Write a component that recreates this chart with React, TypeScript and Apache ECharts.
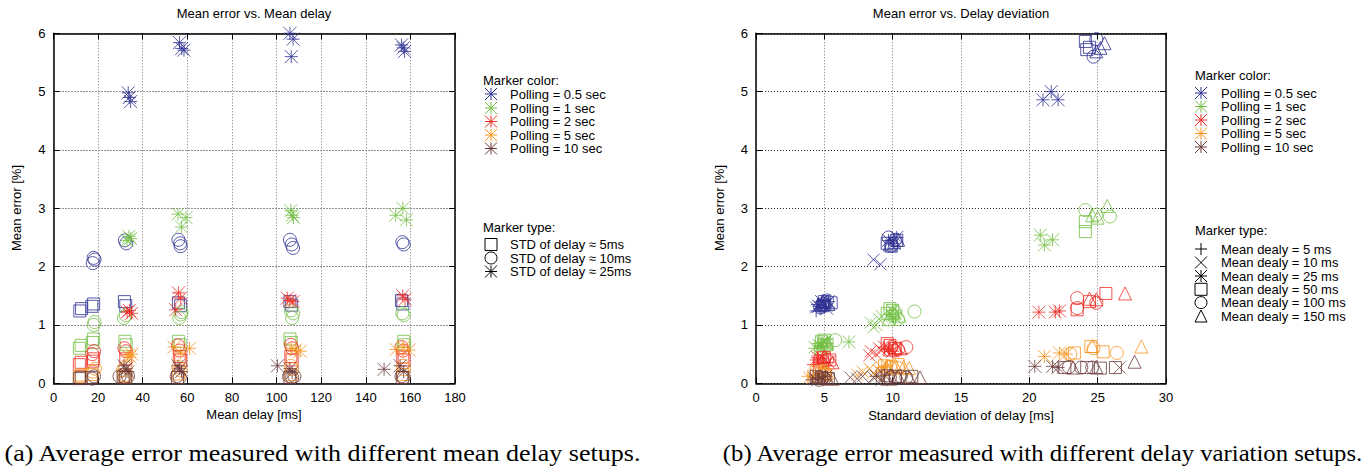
import React, { useEffect, useRef } from "react";
import * as echarts from "echarts";

// ---------- labels ----------
const TITLE_LEFT = "Mean error vs. Mean delay";
const TITLE_RIGHT = "Mean error vs. Delay deviation";
const XNAME_LEFT = "Mean delay [ms]";
const XNAME_RIGHT = "Standard deviation of delay [ms]";
const YNAME = "Mean error [%]";
const CAPTION_A = "(a) Average error measured with different mean delay setups.";
const CAPTION_B = "(b) Average error measured with different delay variation setups.";
const POLLING = ["Polling = 0.5 sec", "Polling = 1 sec", "Polling = 2 sec", "Polling = 5 sec", "Polling = 10 sec"];
const LEFT_TYPES = ["STD of delay \u2248 5ms", "STD of delay \u2248 10ms", "STD of delay \u2248 25ms"];
const RIGHT_TYPES = ["Mean dealy = 5 ms", "Mean dealy = 10 ms", "Mean dealy = 25 ms", "Mean dealy = 50 ms", "Mean dealy = 100 ms", "Mean dealy = 150 ms"];
const COLORS = ["#2e3192", "#72bf44", "#ed2a24", "#f7941d", "#6d3b3b"];

// ---------- left plot data: [measured mean delay, mean error] ----------
// blue (0.5 s)
const L_B_SQ = [[11.8,1.24],[12.6,1.28],[17.2,1.32],[18,1.36],[31.8,1.4],[32.4,1.33],[56,1.38],[57,1.33],[106,1.4],[106.8,1.34],[156,1.42],[156.6,1.36]];
const L_B_CI = [[17.6,2.06],[18.4,2.12],[18,2.15],[32,2.45],[32.6,2.4],[56,2.46],[56.8,2.4],[57,2.35],[106,2.46],[106.8,2.38],[107.4,2.32],[156.4,2.42],[157,2.38]];
const L_B_AS = [[33.5,4.98],[34,4.9],[34.6,4.83],[56.5,5.84],[57.5,5.74],[58.5,5.71],[106,6.0],[107.4,5.9],[106.6,5.6],[156,5.8],[156.8,5.75],[157.4,5.69]];
// green (1 s)
const L_G_SQ = [[11.6,0.6],[12.4,0.65],[17.4,0.7],[18,0.76],[32,0.72],[32.6,0.66],[56,0.72],[56.8,0.66],[106,0.76],[106.6,0.7],[157,0.72],[157.4,0.66]];
const L_G_CI = [[18,1.0],[18.4,1.05],[31.6,1.12],[32.4,1.17],[56.4,1.12],[57,1.18],[57.4,1.22],[106.4,1.25],[107.4,1.2],[107,1.12],[156.4,1.2],[157,1.17]];
const L_G_AS = [[33,2.45],[33.8,2.52],[34.6,2.48],[55.8,2.9],[57.4,2.68],[59.4,2.84],[106.4,2.96],[107,2.88],[107.6,2.84],[153.4,2.88],[156.6,3.0],[158.2,2.8]];
// red (2 s)
const L_R_SQ = [[11.6,0.32],[12.4,0.36],[17.6,0.38],[18,0.42],[32.4,0.42],[56.4,0.46],[57,0.4],[106.4,0.46],[107,0.4],[156.6,0.45],[157.2,0.4]];
const L_R_CI = [[17.4,0.5],[18.2,0.55],[31.8,0.6],[32.4,0.55],[55.8,0.65],[56.6,0.56],[106.4,0.66],[107,0.6],[156,0.62],[156.8,0.56]];
const L_R_AS = [[33,1.22],[34,1.25],[35,1.2],[54.8,1.26],[56,1.55],[57,1.46],[104.8,1.46],[106,1.42],[107.4,1.4],[156.6,1.5],[157.6,1.44]];
// orange (5 s)
const L_O_SQ = [[11.6,0.12],[12.4,0.14],[17,0.15],[31.6,0.14],[32.4,0.12],[56,0.16],[106.4,0.15],[156.6,0.15]];
const L_O_CI = [[17.6,0.2],[18.6,0.25],[31.2,0.22],[32.2,0.27],[56,0.28],[57,0.22],[106.4,0.3],[107,0.24],[156.6,0.3],[157.2,0.24]];
const L_O_AS = [[33.4,0.48],[35,0.5],[34.2,0.45],[54,0.62],[57,0.52],[61,0.6],[106.6,0.6],[108.6,0.57],[110.6,0.55],[153.6,0.58],[156.8,0.62],[159.4,0.57]];
// brown (10 s)
const L_N_SQ = [[11.6,0.08],[12.4,0.1],[17,0.1],[31.2,0.1],[32.4,0.1],[55.6,0.1],[106,0.1],[156.4,0.1]];
const L_N_CI = [[17.4,0.08],[18.2,0.12],[29.6,0.12],[31.8,0.1],[33.4,0.12],[55.2,0.12],[56.6,0.1],[105.6,0.12],[107,0.1],[108,0.12],[156,0.12],[157,0.1]];
const L_N_AS = [[31.6,0.3],[32.6,0.25],[33.4,0.2],[55.8,0.3],[56.6,0.25],[57.4,0.2],[100.4,0.3],[106,0.25],[107,0.18],[148.2,0.24],[155.4,0.3],[157,0.2]];

// ---------- right plot data: [measured std of delay, mean error] ----------
// blue
const R_B_PL = [[4.4,1.24],[4.7,1.28],[5.0,1.3],[4.5,1.35],[4.9,1.42]];
const R_B_CR = [[4.6,1.32],[5.0,1.36],[4.4,1.3],[5.2,1.28],[8.6,2.12],[9.1,2.04]];
const R_B_AS = [[4.8,1.4],[5.1,1.34],[4.6,1.32],[5.3,1.4],[9.7,2.45],[10.1,2.4],[10.3,2.5],[21.0,4.86],[21.6,5.0],[22.1,4.86]];
const R_B_SQ = [[5.5,1.38],[4.9,1.33],[5.0,1.4],[9.6,2.4],[10.3,2.45],[9.9,2.35],[24.1,5.86],[24.2,5.72],[24.4,5.76]];
const R_B_CI = [[4.9,1.36],[5.2,1.42],[4.7,1.3],[9.9,2.36],[10.2,2.46],[9.7,2.5],[24.7,6.02],[24.9,5.9],[24.7,5.6]];
const R_B_TR = [[5.1,1.4],[5.3,1.36],[4.8,1.35],[10.1,2.42],[10.4,2.46],[9.8,2.38],[25.5,5.83],[25.2,5.75],[24.9,5.69]];
// green
const R_G_PL = [[4.3,0.6],[4.6,0.64],[4.9,0.62],[4.5,0.68]];
const R_G_CR = [[4.6,0.66],[5.0,0.7],[4.3,0.62],[5.1,0.72],[8.4,1.04],[8.8,1.0],[9.0,1.1],[8.6,0.96],[9.2,1.15]];
const R_G_AS = [[4.9,0.7],[5.2,0.68],[4.7,0.64],[6.8,0.71],[9.8,1.18],[10.2,1.12],[10.0,1.25],[20.8,2.54],[21.1,2.37],[21.7,2.46]];
const R_G_SQ = [[4.8,0.72],[5.2,0.66],[5.0,0.74],[9.6,1.2],[10.0,1.25],[9.8,1.28],[24.1,2.6],[24.1,2.77]];
const R_G_CI = [[5.8,0.74],[5.1,0.64],[10.4,1.1],[11.6,1.23],[10.0,1.16],[10.2,1.22],[24.1,2.97],[25.9,2.86],[24.9,2.89]];
const R_G_TR = [[5.2,0.7],[4.8,0.6],[10.1,1.2],[10.5,1.16],[9.7,1.1],[25.7,3.04],[25.0,2.84],[24.6,2.88]];
// red
const R_R_PL = [[4.2,0.32],[4.6,0.36],[4.9,0.34],[4.4,0.4]];
const R_R_CR = [[4.5,0.38],[5.0,0.4],[4.8,0.45],[8.4,0.55],[8.8,0.5],[9.0,0.6],[8.3,0.48],[9.2,0.56]];
const R_R_AS = [[4.9,0.42],[5.3,0.36],[4.5,0.44],[9.7,0.6],[10.0,0.55],[9.4,0.62],[20.7,1.22],[21.9,1.22],[22.2,1.24]];
const R_R_SQ = [[5.0,0.44],[5.4,0.4],[4.7,0.38],[9.8,0.65],[10.2,0.6],[9.6,0.68],[23.5,1.26],[24.4,1.4],[25.6,1.54]];
const R_R_CI = [[5.2,0.4],[9.9,0.62],[11.0,0.62],[10.4,0.58],[10.1,0.56],[23.5,1.46],[24.9,1.38],[23.5,1.29]];
const R_R_TR = [[5.6,0.36],[5.0,0.46],[10.2,0.62],[10.6,0.6],[9.8,0.58],[24.4,1.45],[24.9,1.44],[27.0,1.54]];
// orange
const R_O_PL = [[3.8,0.12],[4.2,0.14],[4.6,0.1]];
const R_O_CR = [[3.9,0.1],[4.4,0.16],[7.8,0.2],[8.3,0.25],[8.6,0.18],[7.4,0.15],[9.0,0.22]];
const R_O_AS = [[4.6,0.18],[5.0,0.15],[4.2,0.1],[9.2,0.27],[9.6,0.3],[21.1,0.46],[22.2,0.52],[22.7,0.5]];
const R_O_SQ = [[4.8,0.16],[5.1,0.14],[4.4,0.2],[9.4,0.3],[9.9,0.28],[10.4,0.32],[23.3,0.52],[24.5,0.63],[25.4,0.54]];
const R_O_CI = [[5.0,0.2],[9.8,0.28],[10.4,0.26],[9.2,0.18],[24.7,0.6],[26.4,0.52],[23.0,0.5]];
const R_O_TR = [[5.2,0.18],[4.9,0.22],[10.2,0.3],[11.2,0.26],[10.8,0.28],[9.6,0.25],[24.6,0.64],[28.2,0.63]];
// brown
const R_N_PL = [[4.1,0.06],[4.5,0.08],[4.9,0.06]];
const R_N_CR = [[4.3,0.08],[4.8,0.1],[6.9,0.1],[7.8,0.12],[8.6,0.1],[7.4,0.08],[9.2,0.06],[26.6,0.27]];
const R_N_AS = [[4.6,0.1],[5.1,0.12],[8.8,0.12],[9.4,0.14],[20.4,0.29],[21.7,0.29],[22.1,0.27]];
const R_N_SQ = [[4.8,0.1],[5.3,0.08],[4.4,0.12],[9.6,0.13],[10.2,0.12],[11.4,0.12],[22.6,0.27],[24.2,0.27],[25.2,0.26],[26.3,0.27]];
const R_N_CI = [[5.0,0.08],[4.6,0.06],[9.8,0.1],[10.6,0.12],[11.0,0.1],[10.2,0.08],[22.9,0.28],[23.8,0.27],[24.6,0.27]];
const R_N_TR = [[5.6,0.08],[5.2,0.1],[10.4,0.12],[12.0,0.1],[11.2,0.1],[9.6,0.08],[23.2,0.27],[24.9,0.28],[27.7,0.37]];

const FONT = "'Liberation Sans', Arial, Helvetica, sans-serif";
const SERIF = "'Liberation Serif', 'Times New Roman', serif";

const SYM: Record<string, string> = {
  plus: "path://M0,5L10,5M5,0L5,10",
  cross: "path://M0,0L10,10M10,0L0,10",
  star: "path://M0,5L10,5M5,0L5,10M0,0L10,10M10,0L0,10",
  square: "path://M0,0L10,0L10,10L0,10Z",
  circle: "circle",
  triangle: "path://M5,0L10,10L0,10Z",
};
const SYM_SIZE: Record<string, number> = { plus: 13, cross: 12, star: 13, square: 12, circle: 13, triangle: 13 };

const LEFT_SETS = [
  [L_B_SQ, L_B_CI, L_B_AS],
  [L_G_SQ, L_G_CI, L_G_AS],
  [L_R_SQ, L_R_CI, L_R_AS],
  [L_O_SQ, L_O_CI, L_O_AS],
  [L_N_SQ, L_N_CI, L_N_AS],
];
const LEFT_SYMS = ["square", "circle", "star"];
const RIGHT_SETS = [
  [R_B_PL, R_B_CR, R_B_AS, R_B_SQ, R_B_CI, R_B_TR],
  [R_G_PL, R_G_CR, R_G_AS, R_G_SQ, R_G_CI, R_G_TR],
  [R_R_PL, R_R_CR, R_R_AS, R_R_SQ, R_R_CI, R_R_TR],
  [R_O_PL, R_O_CR, R_O_AS, R_O_SQ, R_O_CI, R_O_TR],
  [R_N_PL, R_N_CR, R_N_AS, R_N_SQ, R_N_CI, R_N_TR],
];
const RIGHT_SYMS = ["plus", "cross", "star", "square", "circle", "triangle"];

function marker(kind: string, cx: number, cy: number, s: number, color: string): any[] {
  const h = s / 2;
  const st = { stroke: color, lineWidth: 1, fill: "none" };
  const ln = (x1: number, y1: number, x2: number, y2: number) => ({ type: "line", shape: { x1, y1, x2, y2 }, style: st });
  switch (kind) {
    case "plus": return [ln(cx - h, cy, cx + h, cy), ln(cx, cy - h, cx, cy + h)];
    case "cross": return [ln(cx - h, cy - h, cx + h, cy + h), ln(cx + h, cy - h, cx - h, cy + h)];
    case "star": return [ln(cx - h, cy, cx + h, cy), ln(cx, cy - h, cx, cy + h), ln(cx - h, cy - h, cx + h, cy + h), ln(cx + h, cy - h, cx - h, cy + h)];
    case "square": return [{ type: "rect", shape: { x: cx - h, y: cy - h, width: s, height: s }, style: st }];
    case "circle": return [{ type: "circle", shape: { cx, cy, r: h }, style: st }];
    default: return [{ type: "polygon", shape: { points: [[cx, cy - h], [cx + h, cy + h], [cx - h, cy + h]] }, style: st }];
  }
}

function txt(x: number, y: number, text: string, opts: any = {}) {
  return {
    type: "text", x, y, rotation: opts.rotation || 0, scaleX: opts.scaleX || 1,
    style: { text, fill: "#000", font: opts.font || `13px ${FONT}`, textAlign: opts.align || "left", textVerticalAlign: "middle" },
  };
}

function axisPair(gridIndex: number, min: number, max: number, interval: number, dim: "x" | "y") {
  const main = {
    gridIndex, type: "value", min, max, interval,
    position: dim === "x" ? "bottom" : "left",
    axisLine: { show: true, onZero: false, lineStyle: { color: "#000", width: 1.5 } },
    axisTick: { show: true, inside: true, length: 6, lineStyle: { color: "#000", width: 1 } },
    axisLabel: { show: true, color: "#000", fontSize: 13, fontFamily: FONT, margin: 8, showMinLabel: true, showMaxLabel: true },
    splitLine: { show: true, lineStyle: { color: dim === "x" ? "#777" : "#222", width: 1, type: [1, 2] } },
  };
  const mirror = {
    gridIndex, type: "value", min, max, interval,
    position: dim === "x" ? "top" : "right",
    axisLine: { show: true, onZero: false, lineStyle: { color: "#000", width: 1.5 } },
    axisTick: { show: true, inside: true, length: 6, lineStyle: { color: "#000", width: 1 } },
    axisLabel: { show: false },
    splitLine: { show: false },
  };
  return [main, mirror];
}

export default function App() {
  const ref = useRef<HTMLDivElement>(null);
  useEffect(() => {
    if (!ref.current) return;
    const chart = echarts.init(ref.current, undefined, { renderer: "svg" });
    const series: any[] = [];
    LEFT_SETS.forEach((sets, ci) => {
      sets.forEach((data, ti) => {
        const k = LEFT_SYMS[ti];
        series.push({
          type: "scatter", xAxisIndex: 0, yAxisIndex: 0, data, symbol: SYM[k], symbolSize: SYM_SIZE[k],
          itemStyle: { color: "transparent", borderColor: COLORS[ci], borderWidth: 1 }, silent: true, z: 3,
        });
      });
    });
    RIGHT_SETS.forEach((sets, ci) => {
      sets.forEach((data, ti) => {
        const k = RIGHT_SYMS[ti];
        series.push({
          type: "scatter", xAxisIndex: 2, yAxisIndex: 2, data, symbol: SYM[k], symbolSize: SYM_SIZE[k],
          itemStyle: { color: "transparent", borderColor: COLORS[ci], borderWidth: 1 }, silent: true, z: 3,
        });
      });
    });

    const graphic: any[] = [];
    graphic.push(txt(254, 13, TITLE_LEFT, { align: "center" }));
    graphic.push(txt(961, 13, TITLE_RIGHT, { align: "center" }));
    graphic.push(txt(254, 414, XNAME_LEFT, { align: "center" }));
    graphic.push(txt(961, 415, XNAME_RIGHT, { align: "center" }));
    graphic.push(txt(16, 208, YNAME, { align: "center", rotation: Math.PI / 2 }));
    graphic.push(txt(719, 208, YNAME, { align: "center", rotation: Math.PI / 2 }));
    // left legend
    graphic.push(txt(483, 80, "Marker color:"));
    const lcy = [94, 108, 121.5, 135, 148.5];
    POLLING.forEach((p, i) => {
      graphic.push(...marker("star", 491, lcy[i], 12, COLORS[i]));
      graphic.push(txt(510, lcy[i], p));
    });
    graphic.push(txt(483, 227, "Marker type:"));
    const lty = [244.5, 258, 271.5];
    LEFT_TYPES.forEach((t, i) => {
      graphic.push(...marker(LEFT_SYMS[i], 491, lty[i], 12, "#000"));
      graphic.push(txt(510, lty[i], t));
    });
    // right legend
    graphic.push(txt(1195, 75, "Marker color:"));
    const rcy = [93, 106.5, 120, 133.5, 147];
    POLLING.forEach((p, i) => {
      graphic.push(...marker("star", 1201, rcy[i], 12, COLORS[i]));
      graphic.push(txt(1221, rcy[i], p));
    });
    graphic.push(txt(1195, 230, "Marker type:"));
    const rty = [249, 262.5, 276, 289.3, 302.6, 316];
    RIGHT_TYPES.forEach((t, i) => {
      graphic.push(...marker(RIGHT_SYMS[i], 1201, rty[i], 12, "#000"));
      graphic.push(txt(1221, rty[i], t));
    });
    // captions
    graphic.push(txt(322.5, 453, CAPTION_A, { align: "center", font: `24px ${SERIF}`, scaleX: 1.085 }));
    graphic.push(txt(1042.5, 453, CAPTION_B, { align: "center", font: `24px ${SERIF}`, scaleX: 1.03 }));

    const [lx, lx2] = axisPair(0, 0, 180, 20, "x");
    const [ly, ly2] = axisPair(0, 0, 6, 1, "y");
    const [rx, rx2] = axisPair(1, 0, 30, 5, "x");
    const [ry, ry2] = axisPair(1, 0, 6, 1, "y");

    chart.setOption({
      animation: false,
      backgroundColor: "#fff",
      grid: [
        { left: 53.5, top: 33.3, width: 401.5, height: 350 },
        { left: 756, top: 33.3, width: 410, height: 350 },
      ],
      xAxis: [lx, lx2, rx, rx2],
      yAxis: [ly, ly2, ry, ry2],
      series,
      graphic: { elements: graphic },
    });
    return () => chart.dispose();
  }, []);
  return <div ref={ref} style={{ position: "absolute", left: 0, top: 0, width: 1365, height: 470 }} />;
}
